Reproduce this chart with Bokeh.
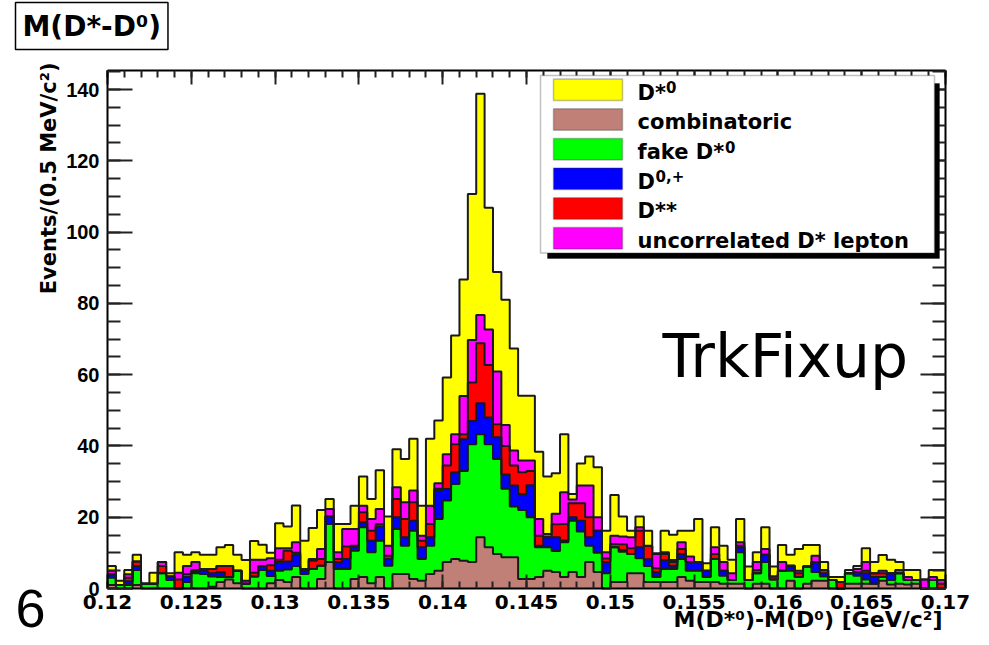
import numpy as np
from bokeh.plotting import figure
from bokeh.models import FixedTicker, LinearAxis, Label, BoxAnnotation, Range1d
from bokeh.embed import file_html
from bokeh.resources import INLINE

# ---------------- data (events per 0.5 MeV bin, 0.12 - 0.17 GeV/c^2) ----------------
x_lo, x_hi, n_bins = 0.12, 0.17, 100

combinatoric = [1, 0, 0, 1, 0, 0, 0, 0, 0, 0,
                0, 0, 0.5, 1.8, 2.5, 1.5, 0, 0, 0, 1.5,
                2.4, 1.8, 3.2, 0, 0, 2.7, 7.4, 0, 0, 2.7,
                3.2, 1.5, 3.2, 0, 4.1, 4.1, 2.7, 2.2, 4.1, 5,
                7.4, 8.3, 7.8, 7.4, 14.4, 11.6, 9.7, 8.8, 8.8, 2.7,
                2.7, 3.2, 5, 4.6, 3.2, 4.6, 3.2, 7.4, 4.6, 0,
                1.8, 1.8, 4.3, 4.3, 1.8, 1.8, 1.8, 1.8, 3.2, 2.2,
                1.8, 1.8, 1.8, 1.3, 1.3, 1.3, 0, 1.3, 1.3, 0,
                0, 2.2, 0, 1.3, 2.2, 2.2, 0, 0, 1.3, 1.3,
                1.3, 1.3, 2.2, 1.1, 1.3, 1.1, 1.3, 0, 0, 0]
fake_dstar0 = [2, 1, 1, 4.2, 1.3, 1.3, 4.3, 2.4, 0, 1.8,
               4.3, 4.1, 2.9, 1.4, 0.7, 3.5, 1.3, 3.4, 5.2, 2,
               2.6, 3.5, 3.1, 4.1, 5.5, 3.7, 10.7, 5.5, 5.5, 7.9,
               14, 8.7, 10.2, 6.4, 12.6, 7.9, 13.5, 6.1, 7.9, 14.5,
               17.3, 21, 25.2, 33.1, 28.9, 28.9, 26.6, 19.2, 14.2, 19.3,
               17.3, 8.4, 6.6, 5.9, 9.8, 14.4, 12.8, 4.6, 5.4, 4.3,
               9.8, 8.5, 5.4, 4.2, 4.5, 1.4, 3.7, 3.7, 5.1, 2.8,
               3.2, 1.4, 6.5, 2.3, 1.1, 8.9, 2.4, 3, 6.1, 2.5,
               5, 2.8, 3.2, 4.9, 2.4, 1.2, 2.4, 0, 3, 2.3,
               1.2, 0, 1, 1.3, 3, 1.3, 1.1, 0, 2.4, 0]
d0_dplus = [1, 0, 1, 1.1, 0, 0, 0, 1, 0, 1.4,
            0.3, 0.8, 0.9, 1.4, 0, 0, 0, 0, 1.1, 1.5,
            2.4, 2.3, 3.2, 0.9, 0, 0, 2.1, 1.9, 2.8, 1,
            1.4, 3.2, 4, 1.9, 3.3, 2.4, 2.8, 3.3, 2.4, 8,
            3.2, 3.3, 8.9, 6.5, 8.7, 7.5, 6.1, 4, 5.9, 4.5,
            9, 0.4, 2.8, 3.9, 0.5, 1, 3, 2.4, 6.2, 3.1,
            0, 0.5, 0, 3.1, 1.9, 1.4, 2.4, 0.9, 1.4, 2.4,
            2.4, 1.8, 0, 1.4, 0, 1.3, 0, 0, 2.1, 0,
            0, 1.4, 0, 0, 2.8, 0.9, 0, 0, 0, 1,
            1.8, 1.9, 0, 1.9, 0, 0, 0, 0, 0, 0]
d_starstar = [0, 0, 1, 1.3, 0, 0, 2, 0, 2.5, 0.9,
              0.6, 0.6, 1.2, 1.7, 3.1, 0, 0, 1, 0, 1.5,
              0.7, 3, 0.5, 0.3, 2.3, 1.9, 0, 0.9, 3.5, 0.4,
              2.8, 2.8, 0.7, 0.9, 5.1, 5.1, 5.2, 1.8, 3.7, 0.5,
              6.6, 7.9, 1.4, 10.8, 16.8, 14.7, 3.7, 8, 5.6, 6.1,
              4, 2.8, 0, 3.6, 4.6, 3.9, 4.9, 5.6, 0, 1,
              0.9, 1.6, 1.6, 4.6, 3.7, 1.1, 1.8, 1, 1.4, 0,
              0, 0, 1.4, 0, 0, 0.5, 0, 0.9, 0, 0.9,
              0, 0, 1.1, 0, 0, 0.9, 0, 1.8, 0, 0,
              0.7, 1.1, 1.1, 0, 0, 0, 0, 0, 0, 1.3]
uncorrelated = [1, 0, 1, 0, 0, 0, 1.1, 0, 1.9, 2.2,
                2.2, 0, 0, 0, 0, 0, 0.9, 3.7, 1.8, 2,
                3.2, 0.7, 3, 0.2, 0.5, 2.8, 2.1, 1.9, 4.9, 4.7,
                1.8, 3.3, 4.2, 2.8, 3.3, 4.7, 3.3, 1.4, 5.1, 1.5,
                3.2, 2.8, 10.7, 11.9, 7.9, 10, 14.8, 5.9, 4.2, 3.3,
                2.9, 4.7, 0.9, 3, 8.9, 1.1, 5, 8.9, 3.8, 1.8,
                2.3, 2.2, 3.1, 1, 0.1, 4, 0.5, 0.6, 1.9, 1.6,
                0, 0, 1.9, 2.4, 1.9, 1, 0, 2.2, 1.6, 0,
                2.4, 0, 0.7, 0, 1.8, 0, 0, 0, 0, 0.9,
                2.4, 0, 0.7, 0, 0.9, 0.8, 0, 2.5, 0.8, 1.1]
dstar0 = [1.3, 1.2, 1.2, 1.9, 0, 3.1, 0, 0.9, 5.8, 3.2,
          2.8, 4, 4, 5.3, 5.9, 4.5, 5.8, 5.2, 4.2, 1.5,
          7, 6.1, 10.3, 7.9, 8.7, 10.9, 2.8, 7.9, 1.4, 6.5,
          8.2, 5.6, 10.9, 8.2, 10.7, 12.1, 14.5, 8.4, 18.8, 17.6,
          21.5, 27.7, 32.7, 41, 62.1, 34.1, 27.9, 35.1, 28.6, 18.2,
          18.2, 18.9, 16.1, 11.3, 16.3, 1.5, 6.2, 8.1, 14, 6,
          11.4, 5.6, 1.8, 3, 4.2, 0.2, 6, 7.1, 3.2, 7.2,
          12.1, 2.1, 5.6, 4.6, 3.8, 6.5, 3.8, 2.8, 6.1, 2.8,
          4.8, 3.1, 6.1, 6, 3, 2.2, 0.8, 1.4, 0.9, 0.8,
          3.9, 3.1, 4.4, 3.8, 2.2, 2, 2.8, 0, 2, 2.8]

# stacking order bottom -> top
stack_series = [combinatoric, fake_dstar0, d0_dplus, d_starstar, uncorrelated, dstar0]
stack_colors = ["#c08078", "#00ff00", "#0000ff", "#ff0000", "#ff00ff", "#ffff00"]

legend_labels = ["D*", "combinatoric", "fake D*", "D", "D**", "uncorrelated D* lepton"]
legend_sups = ["0", "", "0", "0,+", "", ""]
legend_colors = ["#ffff00", "#c08078", "#00ff00", "#0000ff", "#ff0000", "#ff00ff"]

x_major = [0.12, 0.125, 0.13, 0.135, 0.14, 0.145, 0.15, 0.155, 0.16, 0.165, 0.17]
x_major_labels = ["0.12", "0.125", "0.13", "0.135", "0.14", "0.145", "0.15", "0.155", "0.16", "0.165", "0.17"]
y_major = [0, 20, 40, 60, 80, 100, 120, 140]

# ---------------- geometry (canvas pixel <-> data) ----------------
W, H = 989, 645
FRAME_L, FRAME_R, FRAME_T, FRAME_B = 107.0, 945.0, 70.0, 588.0
Y_PER_PX = 140.0 / (588.0 - 89.0)
def X(px):
    return x_lo + (px - FRAME_L) * (x_hi - x_lo) / (FRAME_R - FRAME_L)
def Y(py):
    return (FRAME_B - py) * Y_PER_PX
y_top = Y(FRAME_T)

p = figure(width=W, height=H, x_range=Range1d(X(0), X(W)), y_range=Range1d(Y(H), Y(0)),
           output_backend="svg", toolbar_location=None, title=None,
           x_axis_location=None, y_axis_location=None, min_border=0)
p.xgrid.visible = False
p.ygrid.visible = False
p.outline_line_color = None
p.background_fill_color = "white"
p.border_fill_color = "white"

edges = np.linspace(x_lo, x_hi, n_bins + 1)
cum = np.cumsum(np.array(stack_series, dtype=float), axis=0)
base = np.zeros(n_bins)
tops = []
for k, col in enumerate(stack_colors):
    top = cum[k]
    p.varea_step(x=edges, y1=np.append(base, base[-1]), y2=np.append(top, top[-1]),
                 step_mode="after", fill_color=col, fill_alpha=1.0)
    tops.append(top)
    base = top
for top in tops:
    p.step(x=edges, y=np.append(top, top[-1]), mode="after", line_color="#1a1a1a", line_width=2)

# ---------------- axes (ROOT style: ticks inside, all four sides) ----------------
x_minor = [round(x_lo + 0.001 * i, 4) for i in range(51)]
y_minor = list(range(0, 150, 5))

def style_axis(ax, tin, tmin):
    ax.axis_line_width = 2
    ax.axis_line_color = "black"
    ax.major_tick_in = tin
    ax.major_tick_out = 0
    ax.minor_tick_in = tmin
    ax.minor_tick_out = 0
    ax.major_tick_line_width = 2
    ax.minor_tick_line_width = 2
    ax.major_tick_line_color = "#222222"
    ax.minor_tick_line_color = "#222222"
    ax.major_label_text_color = "black"

xb = LinearAxis(ticker=FixedTicker(ticks=x_major, minor_ticks=x_minor), fixed_location=0,
                bounds=(x_lo, x_hi),
                major_label_overrides={v: s for v, s in zip(x_major, x_major_labels)})
style_axis(xb, 14, 7)
xb.major_label_text_font = "DejaVu Sans"
xb.major_label_text_font_style = "bold"
xb.major_label_text_font_size = "20px"
xb.major_label_standoff = 6
p.add_layout(xb, "below")

xt = LinearAxis(ticker=FixedTicker(ticks=x_major, minor_ticks=x_minor), fixed_location=y_top,
                bounds=(x_lo, x_hi), major_label_overrides={v: "" for v in x_major})
style_axis(xt, 14, 7)
p.add_layout(xt, "above")

yl = LinearAxis(ticker=FixedTicker(ticks=y_major, minor_ticks=y_minor), fixed_location=x_lo,
                bounds=(0, y_top))
style_axis(yl, 25, 13)
yl.major_label_text_font = "Liberation Sans"
yl.major_label_text_font_style = "bold"
yl.major_label_text_font_size = "20px"
yl.major_label_standoff = 8
p.add_layout(yl, "left")

yr = LinearAxis(ticker=FixedTicker(ticks=y_major, minor_ticks=y_minor), fixed_location=x_hi,
                bounds=(0, y_top), major_label_overrides={v: "" for v in y_major})
style_axis(yr, 25, 13)
p.add_layout(yr, "right")

# ---------------- texts ----------------
def add_label(px, py, text, size, bold=True, font="DejaVu Sans", align="left",
              baseline="alphabetic", angle=0.0, shift=0.35, **kw):
    if baseline == "alphabetic":
        py = py - shift * size   # compensate renderer's baseline placement
    lab = Label(x=X(px), y=Y(py), text=text, text_font=font,
                text_font_size=f"{size}px", text_font_style="bold" if bold else "normal",
                text_align=align, text_baseline=baseline, angle=angle, text_color="black", **kw)
    p.add_layout(lab)
    return lab

# axis titles
add_label(942, 627, "M(D*\u2070)-M(D\u2070) [GeV/c\u00b2]", 22, align="right")
add_label(48, 62, "Events/(0.5 MeV/c\u00b2)", 21, align="right", baseline="middle", angle=np.pi / 2)

# histogram title box
add_label(15, 25.5, "M(D*-D\u2070)", 28, baseline="middle",
          background_fill_color="white", border_line_color="black", border_line_width=1.5,
          padding=7)

# big annotations
add_label(662, 381, "TrkFixup", 60, bold=False, shift=0.42)
add_label(15, 631, "6", 54, bold=False, font="Liberation Sans", shift=0.42)

# ---------------- legend (ROOT TLegend look) ----------------
p.add_layout(BoxAnnotation(left=X(547), right=X(939), top=Y(83), bottom=Y(258),
                           fill_color="black", fill_alpha=1, line_color="black"))
p.add_layout(BoxAnnotation(left=X(540), right=X(934), top=Y(75), bottom=Y(252.5),
                           fill_color="white", fill_alpha=1, line_color="#333333", line_width=1.5))
row_top0, row_pitch, box_h = 78.5, 29.7, 21.5
sup_dx = {"D*": 28.5, "fake D*": 87.5, "D": 18}
for i, (lab, sup, col) in enumerate(zip(legend_labels, legend_sups, legend_colors)):
    t = row_top0 + i * row_pitch
    p.add_layout(BoxAnnotation(left=X(553), right=X(622), top=Y(t), bottom=Y(t + box_h),
                               fill_color=col, fill_alpha=1, line_color="#333333", line_width=1.5))
    add_label(637, t + box_h - 0.5, lab, 21)
    if sup:
        add_label(637 + sup_dx[lab], t + box_h - 8, sup, 15)

open("out.html", "w").write(file_html(p, INLINE))
